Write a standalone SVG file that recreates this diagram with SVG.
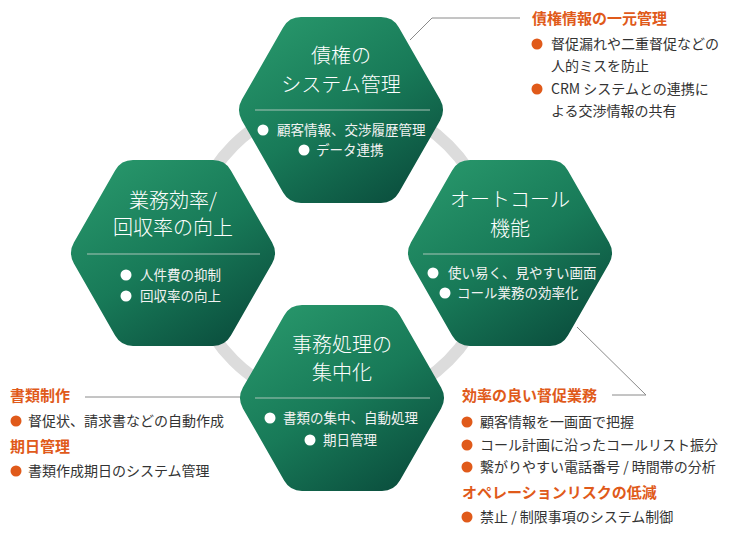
<svg xmlns="http://www.w3.org/2000/svg" width="730" height="534" viewBox="0 0 730 534">
<defs>
<linearGradient id="g" x1="0.15" y1="0" x2="0.85" y2="1">
<stop offset="0" stop-color="#28976b"/>
<stop offset="0.5" stop-color="#187a58"/>
<stop offset="1" stop-color="#0a4c3c"/>
</linearGradient>
<path id="hex" d="M-99.1,-10.4 L-57.9,-82.6 Q-52,-93 -40,-93 L40,-93 Q52,-93 57.9,-82.6 L99.1,-10.4 Q105,0 99.1,10.4 L57.9,82.6 Q52,93 40,93 L-40,93 Q-52,93 -57.9,82.6 L-99.1,10.4 Q-105,0 -99.1,-10.4 Z" fill="url(#g)"/>
<style>
.t{font-family:"Noto Sans CJK JP","Noto Sans",sans-serif;font-size:20px;font-weight:300;fill:#fff;text-anchor:middle}
.b{font-family:"Noto Sans CJK JP","Noto Sans",sans-serif;font-size:13.5px;fill:#f2f2f2}
.d{stroke:#a8c4b8;stroke-width:1}
.w{fill:#fff}
.o{font-family:"Noto Sans CJK JP","Noto Sans",sans-serif;font-size:15px;font-weight:bold;fill:#e05a1a}
.k{font-family:"Noto Sans CJK JP","Noto Sans",sans-serif;font-size:14px;fill:#333}
.od{fill:#e05a1a}
.c{fill:none;stroke:#8a8a8a;stroke-width:1}
</style>
</defs>
<rect width="730" height="534" fill="#fff"/>
<circle cx="341" cy="253" r="152" fill="none" stroke="#dcdcdc" stroke-width="12"/>
<g id="connectors">
<polyline class="c" points="410,40 432,18 520,18"/>
<polyline class="c" points="85,397 245,397"/>
<polyline class="c" points="577,327 646,395 612,395"/>
</g>
<g id="node-top">
<use href="#hex" x="341" y="110"/>
<text class="t" x="341" y="63">債権の</text>
<text class="t" x="341" y="92">システム管理</text>
<line class="d" x1="255" y1="110" x2="430" y2="110"/>
<circle class="w" cx="263" cy="130" r="5.5"/>
<text class="b" x="277" y="135">顧客情報、交渉履歴管理</text>
<circle class="w" cx="304" cy="150" r="5.5"/>
<text class="b" x="316" y="155">データ連携</text>
</g>
<g id="node-left">
<use href="#hex" x="173" y="253"/>
<text class="t" x="173" y="208">業務効率/</text>
<text class="t" x="173" y="235">回収率の向上</text>
<line class="d" x1="87" y1="254" x2="260" y2="254"/>
<circle class="w" cx="126" cy="275" r="5.5"/>
<text class="b" x="140" y="280">人件費の抑制</text>
<circle class="w" cx="126" cy="296" r="5.5"/>
<text class="b" x="140" y="301">回収率の向上</text>
</g>
<g id="node-right">
<use href="#hex" x="510" y="253"/>
<text class="t" x="510" y="207">オートコール</text>
<text class="t" x="510" y="236">機能</text>
<line class="d" x1="423" y1="254" x2="600" y2="254"/>
<circle class="w" cx="433" cy="273" r="5.5"/>
<text class="b" x="448" y="278">使い易く、見やすい画面</text>
<circle class="w" cx="445" cy="293" r="5.5"/>
<text class="b" x="457" y="298">コール業務の効率化</text>
</g>
<g id="node-bottom">
<use href="#hex" x="342" y="398"/>
<text class="t" x="342" y="352">事務処理の</text>
<text class="t" x="342" y="380">集中化</text>
<line class="d" x1="255" y1="398" x2="430" y2="398"/>
<circle class="w" cx="270" cy="418" r="5.5"/>
<text class="b" x="283" y="423">書類の集中、自動処理</text>
<circle class="w" cx="310" cy="440" r="5.5"/>
<text class="b" x="323" y="445">期日管理</text>
</g>
<g id="note-top-right">
<text class="o" x="532" y="24">債権情報の一元管理</text>
<circle class="od" cx="537" cy="44" r="5.5"/>
<text class="k" x="551" y="49">督促漏れや二重督促などの</text>
<text class="k" x="551" y="71">人的ミスを防止</text>
<circle class="od" cx="537" cy="89" r="5.5"/>
<text class="k" x="551" y="94">CRM システムとの連携に</text>
<text class="k" x="551" y="116">よる交渉情報の共有</text>
</g>
<g id="note-bottom-left">
<text class="o" x="10" y="401">書類制作</text>
<circle class="od" cx="16" cy="421" r="5.5"/>
<text class="k" x="28" y="426">督促状、請求書などの自動作成</text>
<text class="o" x="10" y="452">期日管理</text>
<circle class="od" cx="16" cy="471" r="5.5"/>
<text class="k" x="28" y="476">書類作成期日のシステム管理</text>
</g>
<g id="note-bottom-right">
<text class="o" x="462" y="401">効率の良い督促業務</text>
<circle class="od" cx="467" cy="422" r="5.5"/>
<text class="k" x="480" y="427">顧客情報を一画面で把握</text>
<circle class="od" cx="467" cy="445" r="5.5"/>
<text class="k" x="480" y="450">コール計画に沿ったコールリスト振分</text>
<circle class="od" cx="467" cy="467" r="5.5"/>
<text class="k" x="480" y="472">繋がりやすい電話番号 / 時間帯の分析</text>
<text class="o" x="462" y="498">オペレーションリスクの低減</text>
<circle class="od" cx="467" cy="517" r="5.5"/>
<text class="k" x="480" y="522">禁止 / 制限事項のシステム制御</text>
</g>
</svg>
